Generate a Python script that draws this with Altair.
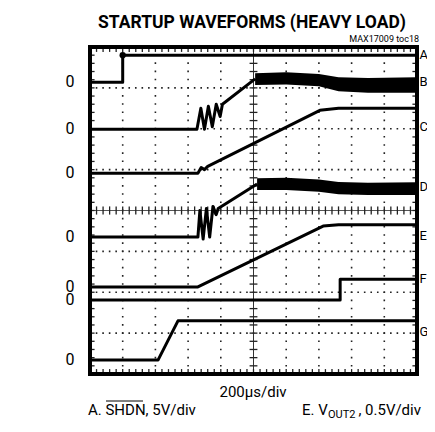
import altair as alt
import pandas as pd

FONT = "Roboto, Liberation Sans, sans-serif"

# ---- trace data (x in divisions 0..10, y in divisions 0..8) ----
A_x = [0, 1.0, 1.0, 10]
A_y = [7.14, 7.14, 7.80, 7.80]

B_x = [0, 3.27, 3.39, 3.50, 3.62, 3.74, 3.86, 3.98, 4.05, 5.05]
B_y = [5.99, 5.99, 6.50, 5.99, 6.55, 6.05, 6.60, 6.30, 6.60, 7.22]

C_x = [0, 3.30, 3.40, 3.50, 3.60, 7.03, 7.6, 10]
C_y = [4.91, 4.91, 5.05, 5.00, 5.08, 6.45, 6.50, 6.50]

D_x = [0, 3.30, 3.36, 3.46, 3.56, 3.66, 3.76, 3.86, 3.92, 5.11]
D_y = [3.35, 3.35, 4.00, 3.30, 4.05, 3.35, 4.10, 3.90, 4.05, 4.65]

E_x = [0, 3.30, 7.13, 7.6, 10]
E_y = [2.13, 2.13, 3.62, 3.65, 3.65]

F_x = [0, 7.65, 7.65, 10]
F_y = [1.81, 1.81, 2.32, 2.32]

G_x = [0, 2.08, 2.69, 10]
G_y = [0.34, 0.34, 1.30, 1.30]

# noisy bands (inductor currents after soft-start)
B_band_x = [5.05, 6.0, 7.0, 7.6, 8.5, 10]
B_band_top = [7.36, 7.38, 7.34, 7.26, 7.24, 7.26]
B_band_bot = [7.07, 7.08, 7.04, 6.92, 6.88, 6.88]

D_band_x = [5.11, 6.0, 7.0, 7.6, 8.5, 10]
D_band_top = [4.79, 4.80, 4.76, 4.70, 4.68, 4.69]
D_band_bot = [4.50, 4.50, 4.46, 4.40, 4.38, 4.38]

zero_levels = [7.14, 5.99, 4.91, 3.35, 2.13, 1.81, 0.34]
ch_labels = ["A", "B", "C", "D", "E", "F", "G"]
ch_label_y = [7.80, 7.14, 6.04, 4.57, 3.38, 2.33, 1.03]

major_x = [1, 2, 3, 4, 6, 7, 8, 9]
major_y = [1, 2, 3, 5, 6, 7]
minor_x = [round(i * 0.2, 2) for i in range(1, 50)]
minor_y = [round(i * 0.2, 2) for i in range(1, 40)]

rows = []
for name, xs_, ys_ in [("A", A_x, A_y), ("B", B_x, B_y), ("C", C_x, C_y), ("D", D_x, D_y),
                       ("E", E_x, E_y), ("F", F_x, F_y), ("G", G_x, G_y)]:
    for i, (x, y) in enumerate(zip(xs_, ys_)):
        rows.append({"trace": name, "x": x, "y": y, "i": i})
traces = pd.DataFrame(rows)

brows = []
for name, bx, t, b in [("B", B_band_x, B_band_top, B_band_bot), ("D", D_band_x, D_band_top, D_band_bot)]:
    for x, tt, bb in zip(bx, t, b):
        brows.append({"trace": name, "x": x, "top": tt, "bot": bb})
bands = pd.DataFrame(brows)

W, H = 327, 327
xs = alt.Scale(domain=[0, 10], nice=False, zero=False)
ys = alt.Scale(domain=[0, 8], nice=False, zero=False)


def X(f):
    return alt.X(f, scale=xs, axis=None)


def Y(f):
    return alt.Y(f, scale=ys, axis=None)


gx = pd.DataFrame({"x": major_x, "y0": 0, "y1": 8})
gy = pd.DataFrame({"y": major_y, "x0": 0, "x1": 10})
cv = pd.DataFrame({"x": [5], "y0": [0], "y1": [8]})
ch = pd.DataFrame({"y": [4], "x0": [0], "x1": [10]})
fr = pd.DataFrame({"x0": [0], "x1": [10], "y0": [0], "y1": [8]})

vgrid = alt.Chart(gx).mark_rule(color="#222", strokeWidth=1.6, strokeDash=[1.6, 6.58], strokeDashOffset=0.8).encode(
    x=X("x:Q"), y=Y("y0:Q"), y2="y1:Q")
hgrid = alt.Chart(gy).mark_rule(color="#222", strokeWidth=1.6, strokeDash=[1.6, 4.94], strokeDashOffset=0.8).encode(
    y=Y("y:Q"), x=X("x0:Q"), x2="x1:Q")
center_v = alt.Chart(cv).mark_rule(color="#333", strokeWidth=1).encode(x=X("x:Q"), y=Y("y0:Q"), y2="y1:Q")
center_h = alt.Chart(ch).mark_rule(color="#555", strokeWidth=1).encode(y=Y("y:Q"), x=X("x0:Q"), x2="x1:Q")

tk = dict(color="#222", strokeWidth=1.3)


def xticks(a, b):
    d = pd.DataFrame({"x": minor_x, "a": a, "b": b})
    return alt.Chart(d).mark_rule(**tk).encode(x=X("x:Q"), y=Y("a:Q"), y2="b:Q")


def yticks(a, b):
    d = pd.DataFrame({"y": minor_y, "a": a, "b": b})
    return alt.Chart(d).mark_rule(**tk).encode(y=Y("y:Q"), x=X("a:Q"), x2="b:Q")


band = alt.Chart(bands).mark_area(color="black", opacity=1).encode(
    x=X("x:Q"), y=Y("top:Q"), y2="bot:Q", detail="trace:N")
lines = alt.Chart(traces).mark_line(color="black", strokeWidth=3, strokeJoin="round").encode(
    x=X("x:Q"), y=Y("y:Q"), detail="trace:N", order="i:Q")
trig = alt.Chart(pd.DataFrame({"x": [A_x[2]], "y": [A_y[2]]})).mark_point(
    shape="circle", size=40, filled=True, color="black", opacity=1).encode(x=X("x:Q"), y=Y("y:Q"))

frame = alt.Chart(fr).mark_rect(filled=False, stroke="black", strokeWidth=4).encode(
    x=X("x0:Q"), x2="x1:Q", y=Y("y0:Q"), y2="y1:Q")

zeros = alt.Chart(pd.DataFrame({"y": zero_levels})).mark_text(
    text="0", font=FONT, fontSize=16, align="center", baseline="middle").encode(
    x=alt.value(-20), y=Y("y:Q"))
chl = alt.Chart(pd.DataFrame({"y": ch_label_y, "t": ch_labels})).mark_text(
    font=FONT, fontSize=13, align="left", baseline="middle").encode(
    x=alt.value(329.5), y=Y("y:Q"), text="t:N")

one = pd.DataFrame({"k": [0]})


def txt(s, x, y, size=15, align="left", weight="normal"):
    return alt.Chart(one).mark_text(text=s, font=FONT, fontSize=size, align=align,
                                    baseline="alphabetic", fontWeight=weight).encode(
        x=alt.value(x), y=alt.value(y))


texts = [
    txt("STARTUP WAVEFORMS (HEAVY LOAD)", 162, -19, size=17.5, align="center", weight="bold"),
    txt("MAX17009 toc18", 329, -5, size=9, align="right"),
    txt("200µs/div", 163, 350, size=15, align="center"),
    txt("A. SHDN, 5V/div", -2, 367.5, size=15),
    txt("B. I", -2, 387, size=15),
    txt("LX1", 22, 390, size=11),
    txt(", 10A/div", 40, 387, size=15),
    txt("E. V", 212, 367.5, size=15),
    txt("OUT2", 238, 370.5, size=11),
    txt(", 0.5V/div", 331, 367.5, size=15, align="right"),
    txt("F. PWRGD, 5V/div", 212, 387, size=15),
]
overline = alt.Chart(one).mark_rule(color="black", strokeWidth=1).encode(
    x=alt.value(16), x2=alt.value(53), y=alt.value(354))

chart = alt.layer(
    vgrid, hgrid, center_v, center_h,
    xticks(3.9, 4.1), xticks(7.88, 8), xticks(0, 0.12),
    yticks(4.88, 5.12), yticks(0, 0.14), yticks(9.86, 10),
    band, lines, trig, frame, zeros, chl, overline, *texts
).properties(
    width=W, height=H,
    autosize=alt.AutoSizeParams(type="none"),
    padding={"left": 82, "top": 39, "right": 10, "bottom": 44},
).configure_view(stroke=None)

chart.save("out.html", embed_options={"renderer": "svg", "actions": False})
